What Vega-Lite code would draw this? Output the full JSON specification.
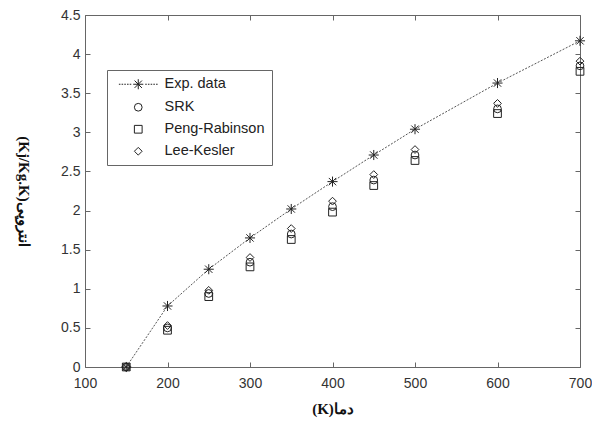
{
  "$schema": "https://vega.github.io/schema/vega-lite/v6.json",
  "autosize": {"type": "none"},
  "width": 495,
  "height": 352,
  "padding": {"left": 85, "top": 15, "right": 12, "bottom": 61},
  "background": "white",
  "config": {
    "view": {"stroke": null},
    "axis": {
      "grid": false,
      "labelFlush": false,
      "domainColor": "#666",
      "tickColor": "#666",
      "labelFont": "Liberation Sans",
      "labelFontSize": 14,
      "labelColor": "#333",
      "titleFont": "Liberation Serif",
      "titleFontSize": 15,
      "titleFontWeight": "bold",
      "titleColor": "#111"
    }
  },
  "data": {
    "values": [
      {"T": 150, "v": 0, "s": "Exp. data"},
      {"T": 200, "v": 0.78, "s": "Exp. data"},
      {"T": 250, "v": 1.25, "s": "Exp. data"},
      {"T": 300, "v": 1.65, "s": "Exp. data"},
      {"T": 350, "v": 2.02, "s": "Exp. data"},
      {"T": 400, "v": 2.37, "s": "Exp. data"},
      {"T": 450, "v": 2.71, "s": "Exp. data"},
      {"T": 500, "v": 3.04, "s": "Exp. data"},
      {"T": 600, "v": 3.63, "s": "Exp. data"},
      {"T": 700, "v": 4.17, "s": "Exp. data"},
      {"T": 150, "v": 0, "s": "SRK"},
      {"T": 200, "v": 0.5, "s": "SRK"},
      {"T": 250, "v": 0.94, "s": "SRK"},
      {"T": 300, "v": 1.34, "s": "SRK"},
      {"T": 350, "v": 1.7, "s": "SRK"},
      {"T": 400, "v": 2.05, "s": "SRK"},
      {"T": 450, "v": 2.39, "s": "SRK"},
      {"T": 500, "v": 2.71, "s": "SRK"},
      {"T": 600, "v": 3.3, "s": "SRK"},
      {"T": 700, "v": 3.85, "s": "SRK"},
      {"T": 150, "v": 0, "s": "Peng-Rabinson"},
      {"T": 200, "v": 0.47, "s": "Peng-Rabinson"},
      {"T": 250, "v": 0.9, "s": "Peng-Rabinson"},
      {"T": 300, "v": 1.28, "s": "Peng-Rabinson"},
      {"T": 350, "v": 1.63, "s": "Peng-Rabinson"},
      {"T": 400, "v": 1.98, "s": "Peng-Rabinson"},
      {"T": 450, "v": 2.32, "s": "Peng-Rabinson"},
      {"T": 500, "v": 2.64, "s": "Peng-Rabinson"},
      {"T": 600, "v": 3.24, "s": "Peng-Rabinson"},
      {"T": 700, "v": 3.78, "s": "Peng-Rabinson"},
      {"T": 150, "v": 0, "s": "Lee-Kesler"},
      {"T": 200, "v": 0.53, "s": "Lee-Kesler"},
      {"T": 250, "v": 0.98, "s": "Lee-Kesler"},
      {"T": 300, "v": 1.4, "s": "Lee-Kesler"},
      {"T": 350, "v": 1.77, "s": "Lee-Kesler"},
      {"T": 400, "v": 2.12, "s": "Lee-Kesler"},
      {"T": 450, "v": 2.46, "s": "Lee-Kesler"},
      {"T": 500, "v": 2.78, "s": "Lee-Kesler"},
      {"T": 600, "v": 3.37, "s": "Lee-Kesler"},
      {"T": 700, "v": 3.91, "s": "Lee-Kesler"}
    ]
  },
  "resolve": {"axis": {"x": "independent", "y": "independent"}},
  "layer": [
    {
      "transform": [{"filter": "datum.s === 'Exp. data'"}],
      "mark": {"type": "line", "color": "#555", "strokeWidth": 1, "strokeDash": [2, 1.5]},
      "encoding": {
        "x": {"field": "T", "type": "quantitative",
          "scale": {"domain": [100, 700], "nice": false},
          "axis": {"orient": "bottom", "values": [100, 200, 300, 400, 500, 600, 700], "tickSize": -5, "labelPadding": 14, "title": "(K)دما", "titlePadding": 11}},
        "y": {"field": "v", "type": "quantitative",
          "scale": {"domain": [0, 4.5], "nice": false, "zero": false},
          "axis": {"orient": "left", "values": [0, 0.5, 1, 1.5, 2, 2.5, 3, 3.5, 4, 4.5], "format": "~f", "tickSize": -5, "labelPadding": 10, "title": "(Kj/Kg.K)انتروپی", "titleAngle": 90, "titlePadding": 45}}
      }
    },
    {
      "transform": [{"filter": "datum.s !== 'Exp. data'"}],
      "mark": {"type": "point", "filled": false, "color": "#222", "size": 60, "strokeWidth": 1, "opacity": 1},
      "encoding": {
        "x": {"field": "T", "type": "quantitative",
          "scale": {"domain": [100, 700], "nice": false},
          "axis": {"orient": "top", "values": [100, 200, 300, 400, 500, 600, 700], "tickSize": -5, "labels": false, "title": null}},
        "y": {"field": "v", "type": "quantitative",
          "scale": {"domain": [0, 4.5], "nice": false, "zero": false},
          "axis": {"orient": "right", "values": [0, 0.5, 1, 1.5, 2, 2.5, 3, 3.5, 4, 4.5], "tickSize": -5, "labels": false, "title": null}},
        "shape": {"field": "s", "type": "nominal",
          "scale": {"domain": ["Exp. data", "SRK", "Peng-Rabinson", "Lee-Kesler"],
            "range": ["M-5,0L-4.6,0M-4.3,0L-3.9,0M-3.6,0L-3.2,0M-2.9,0L-2.5,0M-2.2,0L-1.8,0M1.8,0L2.2,0M2.5,0L2.9,0M3.2,0L3.6,0M3.9,0L4.3,0M4.6,0L5,0M-1.3,0L1.3,0M0,-1.3L0,1.3M-0.95,-0.95L0.95,0.95M-0.95,0.95L0.95,-0.95", "circle", "square", "diamond"]},
          "legend": {
            "orient": "none", "legendX": 22, "legendY": 55,
            "title": null,
            "fillColor": "white", "strokeColor": "#666",
            "padding": 7,
            "labelFont": "Liberation Sans", "labelFontSize": 14.5, "labelColor": "#222",
            "symbolSize": 60, "symbolStrokeColor": "#222", "symbolStrokeWidth": 1, "symbolFillColor": "transparent",
            "symbolOffset": 17, "labelOffset": 19, "rowPadding": 7
          }
        }
      }
    },
    {
      "transform": [{"filter": "datum.s === 'Exp. data'"}],
      "mark": {"type": "point", "filled": false, "color": "#222", "size": 60, "strokeWidth": 1, "opacity": 1,
        "shape": "M-1.3,0L1.3,0M0,-1.3L0,1.3M-0.95,-0.95L0.95,0.95M-0.95,0.95L0.95,-0.95"},
      "encoding": {
        "x": {"field": "T", "type": "quantitative", "scale": {"domain": [100, 700], "nice": false}, "axis": null},
        "y": {"field": "v", "type": "quantitative", "scale": {"domain": [0, 4.5], "nice": false, "zero": false}, "axis": null}
      }
    }
  ]
}
